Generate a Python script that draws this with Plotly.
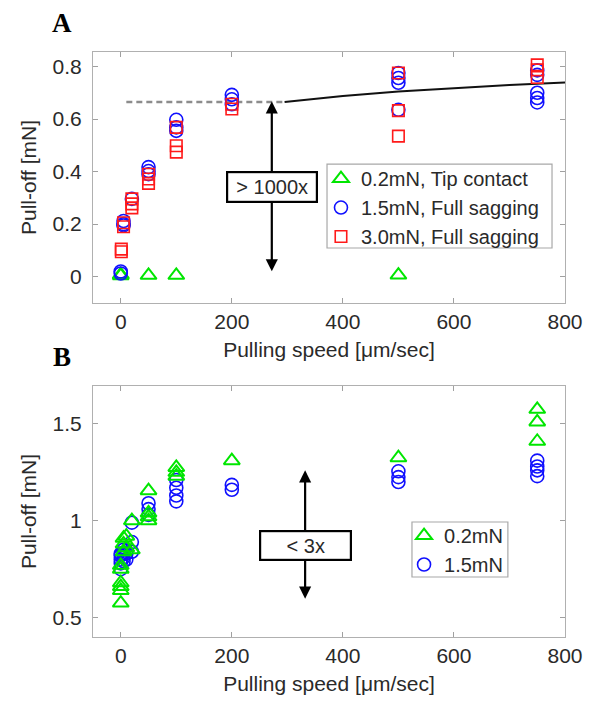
import plotly.graph_objects as go

# ---------------- Panel A data ----------------
a_tip_x = [0, 0, 50, 100, 500]
a_tip_y = [0.008, 0.004, 0.005, 0.005, 0.006]

a_full15_x = [0, 0, 5, 5, 5, 20, 50, 50, 50, 100, 100, 100, 200, 200, 200,
              500, 500, 500, 500, 750, 750, 750, 750, 750]
a_full15_y = [0.012, 0.02, 0.212, 0.2, 0.195, 0.296, 0.417, 0.402, 0.39,
              0.597, 0.568, 0.555, 0.692, 0.675, 0.656,
              0.775, 0.756, 0.738, 0.635, 0.785, 0.768, 0.700, 0.680, 0.663]

a_full30_x = [1, 1, 5, 5, 20, 20, 20, 50, 50, 50, 100, 100, 100, 200, 200,
              500, 500, 500, 750, 750, 750]
a_full30_y = [0.105, 0.095, 0.205, 0.19, 0.296, 0.277, 0.262, 0.39, 0.372, 0.355,
              0.568, 0.498, 0.474, 0.656, 0.638, 0.775, 0.632, 0.535,
              0.806, 0.787, 0.758]

a_plateau_dash_x = [10, 292]
a_plateau_dash_y = [0.665, 0.665]
a_fit_x = [295, 400, 500, 600, 700, 800]
a_fit_y = [0.665, 0.688, 0.705, 0.718, 0.729, 0.739]

# ---------------- Panel B data ----------------
b_02_x = [0, 0, 0, 0, 0, 0, 5, 5, 5, 10, 10, 20, 20, 50, 50, 50, 50,
          100, 100, 100, 200, 500, 750, 750, 750]
b_02_y = [0.575, 0.64, 0.66, 0.68, 0.75, 0.77, 0.84, 0.88, 0.91, 0.86, 0.92,
          1.0, 0.85, 1.155, 1.04, 1.02, 1.0, 1.275, 1.25, 1.23, 1.31, 1.325,
          1.575, 1.51, 1.41]

b_15_x = [0, 0, 0, 0, 0, 5, 5, 5, 5, 10, 10, 20, 20, 20, 50, 50, 50,
          100, 100, 100, 100, 200, 200, 500, 500, 500, 750, 750, 750, 750]
b_15_y = [0.75, 0.78, 0.80, 0.82, 0.83, 0.79, 0.81, 0.83, 0.85, 0.80, 0.83,
          0.99, 0.89, 0.84, 1.09, 1.06, 1.03, 1.21, 1.17, 1.13, 1.10,
          1.185, 1.16, 1.255, 1.225, 1.20, 1.31, 1.28, 1.26, 1.23]

x_ticks = [0, 200, 400, 600, 800]
a_y_ticks = [0, 0.2, 0.4, 0.6, 0.8]
a_y_ticklabels = ["0", "0.2", "0.4", "0.6", "0.8"]
b_y_ticks = [0.5, 1, 1.5]
b_y_ticklabels = ["0.5", "1", "1.5"]

GREEN = "#00e600"
BLUE = "#1010ff"
RED = "#ff1a1a"
FONT = "Liberation Sans, Arial, sans-serif"
TXT = "#2a2a2a"

fig = go.Figure()

# Panel A
fig.add_trace(go.Scatter(x=a_plateau_dash_x, y=a_plateau_dash_y, mode="lines",
                         line=dict(color="#8c8c8c", width=2.5, dash="6px,4px"),
                         showlegend=False, hoverinfo="skip", xaxis="x", yaxis="y"))
fig.add_trace(go.Scatter(x=a_fit_x, y=a_fit_y, mode="lines",
                         line=dict(color="#111111", width=2),
                         showlegend=False, hoverinfo="skip", xaxis="x", yaxis="y"))
fig.add_trace(go.Scatter(x=a_tip_x, y=a_tip_y, mode="markers", name="0.2mN, Tip contact",
                         marker=dict(symbol="triangle-up-open", size=14, color=GREEN,
                                     line=dict(width=2, color=GREEN)),
                         xaxis="x", yaxis="y", legend="legend"))
fig.add_trace(go.Scatter(x=a_full15_x, y=a_full15_y, mode="markers", name="1.5mN, Full sagging",
                         marker=dict(symbol="circle-open", size=13, color=BLUE,
                                     line=dict(width=1.6, color=BLUE)),
                         xaxis="x", yaxis="y", legend="legend"))
fig.add_trace(go.Scatter(x=a_full30_x, y=a_full30_y, mode="markers", name="3.0mN, Full sagging",
                         marker=dict(symbol="square-open", size=11.5, color=RED,
                                     line=dict(width=1.6, color=RED)),
                         xaxis="x", yaxis="y", legend="legend"))

# Panel B
fig.add_trace(go.Scatter(x=b_15_x, y=b_15_y, mode="markers", name="1.5mN",
                         marker=dict(symbol="circle-open", size=13, color=BLUE,
                                     line=dict(width=1.6, color=BLUE)),
                         xaxis="x2", yaxis="y2", legend="legend2", legendrank=2))
fig.add_trace(go.Scatter(x=b_02_x, y=b_02_y, mode="markers", name="0.2mN",
                         marker=dict(symbol="triangle-up-open", size=14, color=GREEN,
                                     line=dict(width=2, color=GREEN)),
                         xaxis="x2", yaxis="y2", legend="legend2", legendrank=1))

axis_common = dict(showgrid=False, zeroline=False, showline=True, linecolor="#b0b0b0",
                   linewidth=1.2, mirror="ticks", ticks="inside", ticklen=5,
                   tickcolor="#a0a0a0", automargin=False,
                   tickfont=dict(family=FONT, size=21, color=TXT))

title_font = dict(family=FONT, size=21, color=TXT)

fig.update_layout(
    width=600, height=702,
    margin=dict(l=93, r=35, t=52, b=65),
    paper_bgcolor="white", plot_bgcolor="white",
    xaxis=dict(domain=[0, 1], range=[-50, 800], tickvals=x_ticks, anchor="y",
               title=dict(text="Pulling speed [μm/sec]", font=title_font, standoff=10),
               **axis_common),
    yaxis=dict(domain=[0.571, 1], range=[-0.1, 0.855], tickvals=a_y_ticks,
               ticktext=a_y_ticklabels, anchor="x", ticklabelstandoff=6,
               title=dict(text="Pull-off [mN]", font=title_font, standoff=10),
               **axis_common),
    xaxis2=dict(domain=[0, 1], range=[-50, 800], tickvals=x_ticks, anchor="y2",
                title=dict(text="Pulling speed [μm/sec]", font=title_font, standoff=10),
                **axis_common),
    yaxis2=dict(domain=[0, 0.429], range=[0.4, 1.695], tickvals=b_y_ticks,
                ticktext=b_y_ticklabels, anchor="x2", ticklabelstandoff=6,
                title=dict(text="Pull-off [mN]", font=title_font, standoff=10),
                **axis_common),
    legend=dict(x=0.483, y=0.817, xanchor="left", yanchor="top",
                bgcolor="rgba(0,0,0,0)", borderwidth=0,
                font=dict(family=FONT, size=20, color=TXT), itemwidth=30,
                tracegroupgap=0),
    legend2=dict(x=0.659, y=0.2068, xanchor="left", yanchor="top",
                 bgcolor="rgba(0,0,0,0)", borderwidth=0,
                 font=dict(family=FONT, size=20, color=TXT), itemwidth=30),
    showlegend=True,
)

# Legend frames
fig.add_shape(type="rect", xref="paper", yref="paper", x0=0.4958, x1=0.9725, y0=0.665, y1=0.8085,
              line=dict(color="#a8a8a8", width=1.2), fillcolor="white", layer="below")
fig.add_shape(type="rect", xref="paper", yref="paper", x0=0.6758, x1=0.879, y0=0.1026, y1=0.1966,
              line=dict(color="#a8a8a8", width=1.2), fillcolor="white", layer="below")

# Double-headed arrows
fig.add_annotation(x=272, y=0.667, ax=272, ay=0.015, xref="x", yref="y", axref="x", ayref="y",
                   text="", showarrow=True, arrowhead=2, startarrowhead=2, arrowside="end+start",
                   arrowwidth=2.2, arrowsize=1.1, startarrowsize=1.1, arrowcolor="black")
fig.add_annotation(x=332, y=1.26, ax=332, ay=0.59, xref="x2", yref="y2", axref="x2", ayref="y2",
                   text="", showarrow=True, arrowhead=2, startarrowhead=2, arrowside="end+start",
                   arrowwidth=2.2, arrowsize=1.1, startarrowsize=1.1, arrowcolor="black")

# Boxed labels
fig.add_annotation(x=273, y=0.341, xref="x", yref="y", text="&gt; 1000x", showarrow=False,
                   font=dict(family=FONT, size=20, color=TXT), bgcolor="white",
                   bordercolor="black", borderwidth=2.2, borderpad=2, width=84, height=24)
fig.add_annotation(x=332, y=0.874, xref="x2", yref="y2", text="&lt; 3x", showarrow=False,
                   font=dict(family=FONT, size=20, color=TXT), bgcolor="white",
                   bordercolor="black", borderwidth=2.2, borderpad=2, width=85, height=23)

# Panel letters
fig.add_annotation(x=-0.066, y=1.0496, xref="paper", yref="paper", text="<b>A</b>",
                   xanchor="center", yanchor="middle", showarrow=False,
                   font=dict(family="Liberation Serif, Times New Roman, serif", size=27, color="black"))
fig.add_annotation(x=-0.066, y=0.4786, xref="paper", yref="paper", text="<b>B</b>",
                   xanchor="center", yanchor="middle", showarrow=False,
                   font=dict(family="Liberation Serif, Times New Roman, serif", size=27, color="black"))

fig.write_html("out.html")
